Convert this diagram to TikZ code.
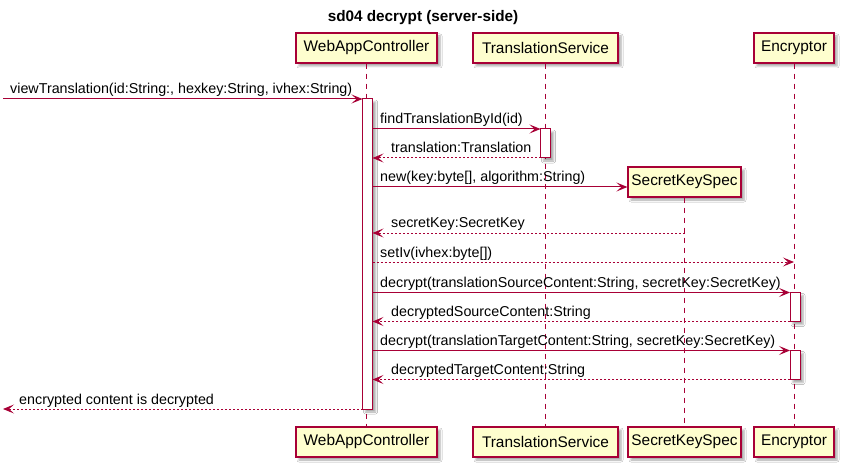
\documentclass[tikz,border=0pt]{standalone}
\usepackage{fontspec}
\setmainfont{Liberation Sans}
\usetikzlibrary{arrows.meta,shadows.blur}
\definecolor{pborder}{HTML}{A80036}
\definecolor{pfill}{HTML}{FEFECE}
\tikzset{
  shd/.style={blur shadow={shadow xshift=3pt,shadow yshift=-3pt,shadow blur radius=2pt,shadow opacity=35}},
  part/.style={draw=pborder, fill=pfill, line width=1.2pt, minimum height=30pt, inner sep=0pt, shd,
    font=\fontsize{15.4}{18}\selectfont},
  actbar/.style={draw=pborder, fill=white, line width=1pt, minimum width=10pt, inner sep=0pt, shd},
  lifeline/.style={draw=pborder, line width=0.9pt, dash pattern=on 5pt off 5pt},
  msg/.style={draw=pborder, line width=1pt, -{Stealth[length=11pt,width=9pt,inset=5pt]}},
  ret/.style={msg, dash pattern=on 2pt off 2pt},
  lbl/.style={anchor=base west, inner sep=0pt, font=\fontsize{14.3}{17}\selectfont},
  ttl/.style={inner sep=0pt, font=\fontsize{15.3}{18}\bfseries\selectfont}
}
\begin{document}
\begin{tikzpicture}[x=1pt,y=-1pt]
\fill[white] (0,0) rectangle (844,468);
\useasboundingbox (0,0) rectangle (844,468);

\node[ttl] (title) at (423,18) {sd04 decrypt (server-side)};

% participants top
\node[part, minimum width=141pt] (wTop) at (366.5,48) {WebAppController};
\node[part, minimum width=145pt] (tTop) at (545.5,48) {TranslationService};
\node[part, minimum width=80pt]  (eTop) at (794,48) {Encryptor};
\node[part, minimum width=113pt] (sTop) at (684.5,182) {SecretKeySpec};
% participants bottom
\node[part, minimum width=141pt] (wBot) at (366.5,442) {WebAppController};
\node[part, minimum width=145pt] (tBot) at (545.5,442) {TranslationService};
\node[part, minimum width=113pt] (sBot) at (684.5,442) {SecretKeySpec};
\node[part, minimum width=80pt]  (eBot) at (794,442) {Encryptor};

% lifelines
\draw[lifeline] (wTop.south) -- (wBot.north);
\draw[lifeline] (tTop.south) -- (tBot.north);
\draw[lifeline] (sTop.south) -- (sBot.north);
\draw[lifeline] (eTop.south) -- (eBot.north);

% activation bars
\node[actbar, minimum height=310pt] (aW) at (367.5,254) {};
\node[actbar, minimum height=29pt] (aT) at (545.5,143.5) {};
\node[actbar, minimum height=29pt] (aE1) at (795,307) {};
\node[actbar, minimum height=29pt] (aE2) at (795,365) {};

% message endpoints
\coordinate (m1a) at (3,99);       \coordinate (m1b) at (362.5,99);
\coordinate (m2a) at (372.5,129);  \coordinate (m2b) at (540.5,129);
\coordinate (m3a) at (540.5,158);  \coordinate (m3b) at (372.5,158);
\coordinate (m4a) at (372.5,187);
\coordinate (m5a) at (684.5,233);  \coordinate (m5b) at (372.5,233);
\coordinate (m6a) at (372.5,262);  \coordinate (m6b) at (794,262);
\coordinate (m7a) at (372.5,292.5);\coordinate (m7b) at (790,292.5);
\coordinate (m8a) at (790,321.5);  \coordinate (m8b) at (372.5,321.5);
\coordinate (m9a) at (372.5,350.5);\coordinate (m9b) at (790,350.5);
\coordinate (m10a) at (790,379.5); \coordinate (m10b) at (372.5,379.5);
\coordinate (m11a) at (362.5,409); \coordinate (m11b) at (3,409);

\draw[msg] (m1a) -- (m1b);
\node[lbl] (l1) at (10,94) {viewTranslation(id:String:, hexkey:String, ivhex:String)};
\draw[msg] (m2a) -- (m2b);
\node[lbl] (l2) at (380,124) {findTranslationById(id)};
\draw[ret] (m3a) -- (m3b);
\node[lbl] (l3) at (391,153) {translation:Translation};
\draw[msg] (m4a) -- (sTop.west |- m4a);
\node[lbl] (l4) at (380,182) {new(key:byte[], algorithm:String)};
\draw[ret] (m5a) -- (m5b);
\node[lbl] (l5) at (391,228) {secretKey:SecretKey};
\draw[ret] (m6a) -- (m6b);
\node[lbl] (l6) at (380,257) {setIv(ivhex:byte[])};
\draw[msg] (m7a) -- (m7b);
\node[lbl] (l7) at (380,287.5) {decrypt(translationSourceContent:String, secretKey:SecretKey)};
\draw[ret] (m8a) -- (m8b);
\node[lbl] (l8) at (391,316.5) {decryptedSourceContent:String};
\draw[msg] (m9a) -- (m9b);
\node[lbl] (l9) at (380,345.5) {decrypt(translationTargetContent:String, secretKey:SecretKey)};
\draw[ret] (m10a) -- (m10b);
\node[lbl] (l10) at (391,374.5) {decryptedTargetContent:String};
\draw[ret] (m11a) -- (m11b);
\node[lbl] (l11) at (19,404) {encrypted content is decrypted};
\end{tikzpicture}
\end{document}
